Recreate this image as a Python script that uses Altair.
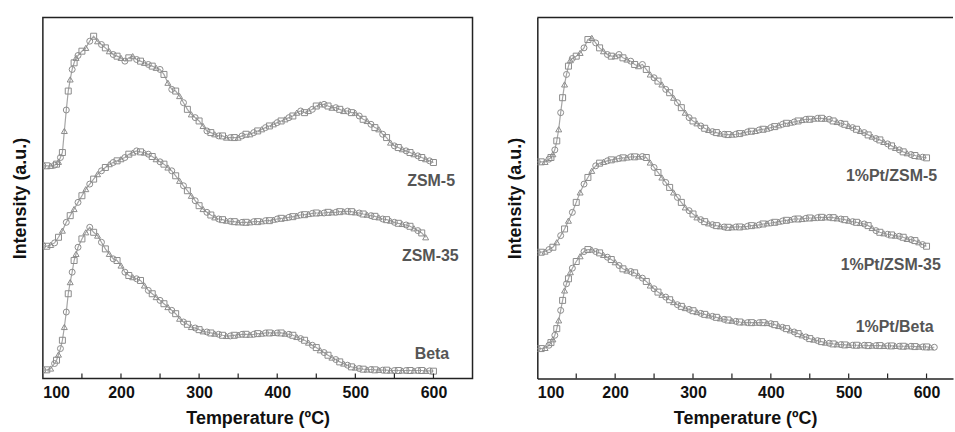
import altair as alt
import pandas as pd

# ---------------- data (intensity in arbitrary units) ----------------
T_HEAD = [100, 105, 110, 115, 117.5, 120, 122.5, 125, 127.5, 130, 132.5, 135, 137.5, 140, 142.5, 145]


def steep_grid(end):
    return T_HEAD + list(range(150, end + 5, 5))


def flat_grid(end):
    return list(range(100, end + 5, 5))


ZSM5 = [640, 640, 640, 642, 645, 652, 665, 680, 745, 808, 865, 900, 930, 950, 965, 972,
        985, 995, 1015, 1030, 1015, 1005, 995, 985, 975, 970,
        965, 955, 965, 970, 960, 955, 950, 945, 940, 935,
        930, 915, 890, 870, 865, 850, 830, 810, 795, 785,
        775, 760, 745, 740, 735, 730, 730, 725, 725, 725,
        725, 730, 735, 735, 740, 745, 750, 755, 760, 765,
        770, 775, 780, 785, 790, 800, 805, 800, 805, 810,
        820, 825, 825, 820, 815, 815, 810, 805, 805, 800,
        800, 790, 780, 775, 765, 755, 750, 735, 725, 710,
        700, 695, 690, 685, 680, 675, 670, 665, 660, 655,
        650]

ZSM35 = [400, 398, 402, 408, 425, 445, 470, 490, 510, 530,
         550, 570, 585, 600, 615, 625, 635, 645, 650, 655,
         660, 665, 675, 680, 685, 682, 680, 675, 668, 660,
         652, 645, 635, 625, 610, 595, 580, 565, 550, 535,
         520, 510, 500, 492, 485, 480, 478, 475, 473, 472,
         470, 470, 470, 470, 472, 472, 473, 475, 475, 478,
         480, 482, 483, 485, 487, 490, 492, 493, 495, 497,
         498, 498, 498, 500, 500, 500, 502, 503, 503, 502,
         500, 498, 495, 493, 490, 488, 485, 480, 478, 475,
         470, 467, 465, 462, 458, 452, 445, 438, 425]

BETA = [25, 26, 30, 45, 55, 72, 90, 115, 155, 200, 255, 290, 320, 355, 375, 395,
        420, 440, 455, 440, 430, 410, 390, 375, 360, 355,
        340, 320, 310, 305, 300, 295, 280, 265, 255, 245,
        235, 225, 215, 205, 195, 180, 170, 163, 155, 152,
        147, 142, 140, 137, 135, 133, 130, 128, 128, 130,
        132, 133, 133, 132, 133, 135, 135, 137, 137, 137,
        137, 137, 135, 133, 130, 125, 120, 115, 108, 100,
        93, 85, 78, 70, 63, 57, 50, 45, 40, 35,
        33, 30, 28, 27, 27, 26, 26, 25, 25, 24,
        24, 24, 24, 24, 24, 24, 24, 24, 23, 23,
        22]

PT_ZSM5 = [652, 652, 652, 660, 665, 675, 688, 715, 750, 800, 845, 885, 915, 940, 958, 963,
           970, 980, 995, 1020, 1025, 1010, 995, 985, 975, 970,
           970, 975, 965, 960, 955, 945, 940, 945, 930, 915,
           905, 895, 885, 870, 860, 845, 830, 815, 800, 785,
           775, 768, 760, 753, 748, 743, 740, 737, 735, 734,
           734, 735, 737, 740, 742, 744, 745, 748, 750, 752,
           755, 758, 762, 765, 768, 770, 772, 775, 778, 780,
           780, 782, 783, 783, 782, 780, 775, 772, 768, 765,
           760, 755, 750, 745, 740, 733, 728, 722, 718, 712,
           706, 700, 694, 688, 682, 678, 674, 671, 668, 666,
           664]

PT_ZSM35 = [380, 380, 382, 388, 395, 410, 430, 450, 475, 500,
            530, 560, 585, 605, 625, 640, 648, 652, 655, 658,
            660, 662, 664, 665, 667, 667, 668, 668, 665, 650,
            635, 620, 605, 590, 575, 560, 545, 530, 515, 505,
            495, 485, 478, 472, 467, 463, 460, 458, 456, 455,
            455, 456, 456, 457, 458, 460, 461, 462, 465, 467,
            468, 470, 472, 474, 476, 478, 480, 480, 480, 482,
            483, 483, 484, 485, 485, 485, 484, 482, 480, 478,
            475, 472, 470, 468, 465, 460, 453, 445, 440, 437,
            434, 432, 430, 428, 425, 420, 418, 415, 410, 403,
            398]

PT_BETA = [90, 90, 92, 100, 108, 118, 130, 150, 175, 205, 235, 265, 285, 300, 320, 332,
           352, 368, 382, 388, 388, 382, 378, 372, 365, 358,
           350, 340, 330, 325, 322, 318, 310, 302, 292, 280,
           270, 260, 252, 245, 237, 230, 222, 217, 212, 208,
           204, 200, 196, 193, 190, 187, 184, 181, 178, 176,
           174, 172, 170, 169, 168, 168, 168, 168, 168, 167,
           165, 162, 158, 154, 150, 145, 140, 135, 130, 125,
           120, 117, 114, 111, 108, 106, 104, 103, 102, 101,
           101, 100, 100, 100, 100, 99, 99, 99, 99, 98,
           98, 98, 98, 97, 97, 97, 97, 96, 96, 95,
           95, 94, 94]

LEFT_CURVES = [("ZSM-5", steep_grid(600), ZSM5),
               ("ZSM-35", flat_grid(590), ZSM35),
               ("Beta", steep_grid(600), BETA)]
RIGHT_CURVES = [("1%Pt/ZSM-5", steep_grid(600), PT_ZSM5),
                ("1%Pt/ZSM-35", flat_grid(600), PT_ZSM35),
                ("1%Pt/Beta", steep_grid(610), PT_BETA)]

LEFT_LABELS = {"label": ["ZSM-5", "ZSM-35", "Beta"],
               "T": [597, 596, 598], "I": [595, 368, 74]}
RIGHT_LABELS = {"label": ["1%Pt/ZSM-5", "1%Pt/ZSM-35", "1%Pt/Beta"],
                "T": [555, 554, 559], "I": [608, 341, 155]}

X_LABEL_VALUES = [100, 200, 300, 400, 500, 600]
X_TICK_VALUES = [150, 200, 250, 300, 350, 400, 450, 500, 550, 600]
Y_MAX = 1086
SHAPES = ["circle", "square", "triangle-up"]

FONT = "Liberation Sans"
GRAY = "#8c8c8c"
FRAME = "#222"
HEIGHT = 362


def build_df(curves):
    rows = []
    for name, temps, vals in curves:
        assert len(temps) == len(vals), (name, len(temps), len(vals))
        for i, (t, v) in enumerate(zip(temps, vals)):
            rows.append({"series": name, "T": t, "I": v, "shape": SHAPES[i % 3]})
    return pd.DataFrame(rows)


def panel(curves, labels, xmax, width, right):
    df = build_df(curves)
    x_enc = alt.X("T:Q",
                  scale=alt.Scale(domain=[100, xmax], nice=False, zero=False),
                  axis=alt.Axis(values=X_LABEL_VALUES, title="Temperature (ºC)",
                                ticks=False, tickSize=0, grid=False,
                                domain=right, domainColor=FRAME, domainWidth=1.5,
                                labelPadding=6, titlePadding=9,
                                labelFont=FONT, titleFont=FONT,
                                labelFontWeight="bold", titleFontWeight="bold",
                                labelColor="#111", titleColor="#111",
                                labelFontSize=16, titleFontSize=18))
    y_enc = alt.Y("I:Q",
                  scale=alt.Scale(domain=[0, Y_MAX], nice=False, zero=False),
                  axis=alt.Axis(labels=False, ticks=False, tickSize=0, grid=False,
                                domain=right, domainColor=FRAME, domainWidth=1.5,
                                title="Intensity (a.u.)", titlePadding=13,
                                titleFont=FONT, titleFontWeight="bold",
                                titleColor="#111", titleFontSize=18))
    base = alt.Chart(df)
    line = base.mark_line(color="#a5a5a5", strokeWidth=1.2, clip=True).encode(
        x=x_enc, y=y_enc, detail="series:N", order="T:Q")
    pts = base.mark_point(filled=False, size=36, strokeWidth=1, color=GRAY,
                          opacity=1, clip=True).encode(
        x=x_enc, y=y_enc, shape=alt.Shape("shape:N", scale=None), detail="series:N")
    ticks = alt.Chart(pd.DataFrame({"T": X_TICK_VALUES})).mark_rule(
        color=FRAME, strokeWidth=1.2).encode(
        x=x_enc, y=alt.value(HEIGHT - 5), y2=alt.value(HEIGHT))
    text = alt.Chart(pd.DataFrame(labels)).mark_text(
        font=FONT, fontWeight="bold", fontSize=16, color="#555",
        align="center", baseline="middle").encode(
        x=x_enc, y=y_enc, text="label:N")
    layers = [line, pts, ticks, text]
    if right:
        top = alt.Chart(pd.DataFrame({"T": [100]})).mark_rule(
            color=FRAME, strokeWidth=1.5).encode(
            x=alt.value(0), x2=alt.value(width), y=alt.value(0))
        layers.append(top)
    ch = alt.layer(*layers).properties(width=width, height=HEIGHT)
    if right:
        ch = ch.properties(view=alt.ViewBackground(stroke="transparent"))
    else:
        ch = ch.properties(view=alt.ViewBackground(stroke=FRAME, strokeWidth=1.5))
    return ch


left = panel(LEFT_CURVES, LEFT_LABELS, 650, 431, False)
right = panel(RIGHT_CURVES, RIGHT_LABELS, 634, 417, True)

chart = alt.hconcat(left, right, spacing=32).properties(
    padding={"left": 11, "top": 15, "right": 0, "bottom": 0},
    background="white"
)

chart.save("out.html", embed_options={"renderer": "svg", "actions": False})
